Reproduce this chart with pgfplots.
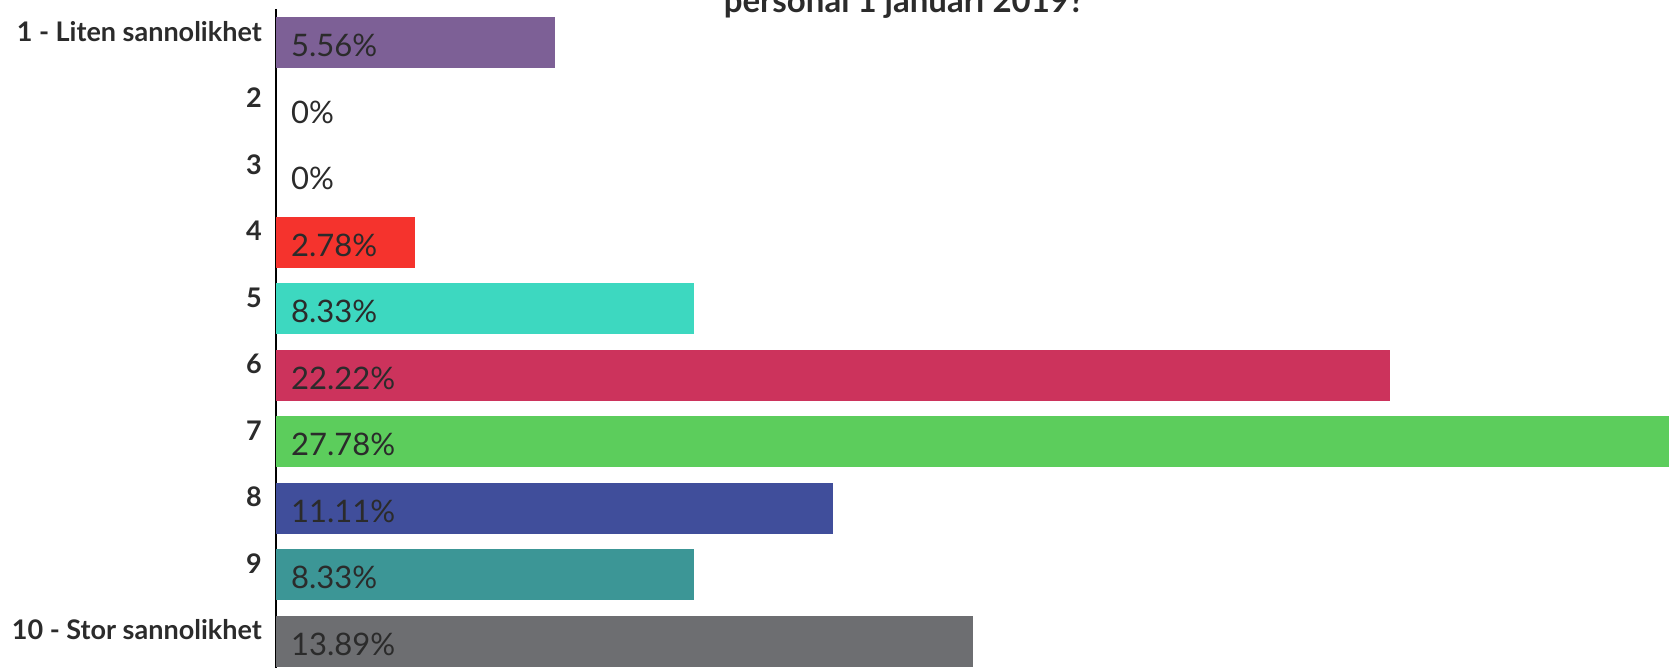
\documentclass[border=0pt]{standalone}
\usepackage{fontspec}
\setmainfont{Lato}
\usepackage{pgfplots}
\pgfplotsset{compat=1.18}
\definecolor{c1}{HTML}{7D6096}
\definecolor{c4}{HTML}{F5332D}
\definecolor{c5}{HTML}{3DD8C0}
\definecolor{c6}{HTML}{CC335C}
\definecolor{c7}{HTML}{5CCD5C}
\definecolor{c8}{HTML}{404E9B}
\definecolor{c9}{HTML}{3C9696}
\definecolor{c10}{HTML}{6D6E71}
\definecolor{txt}{HTML}{2B2B2B}
\begin{document}
\begin{tikzpicture}[x=1pt,y=1pt]
\useasboundingbox (0,0) rectangle (1669,667);
\clip (0,0) rectangle (1669,667);
\node[font=\fontsize{33}{38}\selectfont\bfseries, text=txt, anchor=base, inner sep=0pt] at (904,654) {personal 1 januari 2019?};
\begin{axis}[
  at={(276pt,-7.3pt)}, anchor=south west,
  scale only axis, width=1393pt, height=665pt,
  xmin=0, xmax=27.78, ymin=0.5, ymax=10.5, y dir=reverse,
  axis x line=none, axis y line*=left,
  axis line style={black, line width=1.5pt},
  ytick={1,...,10}, major tick length=0pt,
  yticklabels={1 - Liten sannolikhet,2,3,4,5,6,7,8,9,10 - Stor sannolikhet},
  yticklabel style={font=\fontsize{27}{31}\selectfont\bfseries, text=txt, inner sep=0pt, xshift=-14pt, yshift=11pt},
  clip=false,
  every axis plot/.append style={draw=none},
  mybar/.style={xbar, bar width=51pt, bar shift=0pt, draw=none},
]
\addplot[mybar, fill=c1] coordinates {(5.56,1)};
\addplot[mybar, fill=c4] coordinates {(2.78,4)};
\addplot[mybar, fill=c5] coordinates {(8.33,5)};
\addplot[mybar, fill=c6] coordinates {(22.22,6)};
\addplot[mybar, fill=c7] coordinates {(27.78,7)};
\addplot[mybar, fill=c8] coordinates {(11.11,8)};
\addplot[mybar, fill=c9] coordinates {(8.33,9)};
\addplot[mybar, fill=c10] coordinates {(13.89,10)};
\addplot[only marks, mark=none, nodes near coords, point meta=explicit symbolic,
  nodes near coords style={anchor=west, inner sep=0pt, xshift=15pt, yshift=-3pt, text=txt, font=\fontsize{31}{35}\selectfont}]
  coordinates {(0,1) [5.56\%] (0,2) [0\%] (0,3) [0\%] (0,4) [2.78\%] (0,5) [8.33\%]
  (0,6) [22.22\%] (0,7) [27.78\%] (0,8) [11.11\%] (0,9) [8.33\%] (0,10) [13.89\%]};
\end{axis}
\end{tikzpicture}
\end{document}
